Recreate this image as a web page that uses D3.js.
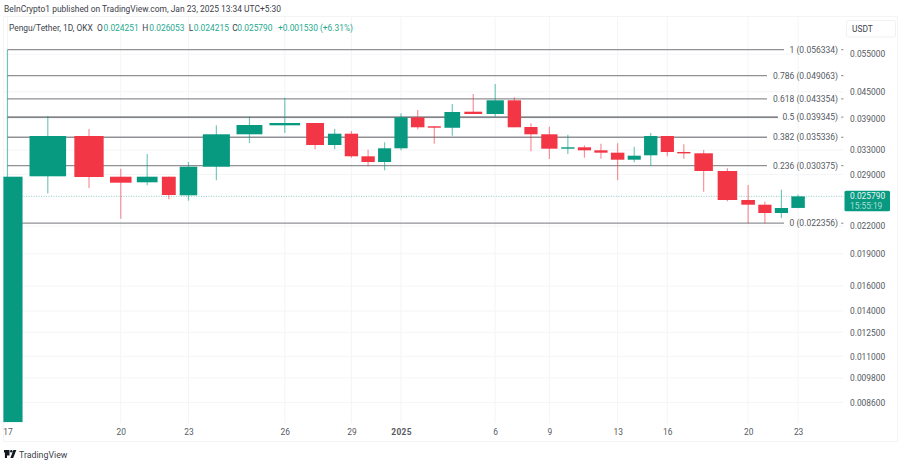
<!DOCTYPE html>
<html>
<head>
<meta charset="utf-8">
<script src="https://cdn.jsdelivr.net/npm/d3@7"></script>
<style>
  html, body { margin: 0; padding: 0; background: #fff; }
  text { font-family: Roboto, "Noto Sans", sans-serif; }
</style>
</head>
<body>
<div id="chart"></div>
<script>
// daily candles, 17 Dec 2024 to 23 Jan 2025
var opens = [0.00775, 0.02870, 0.03557, 0.02864, 0.027798, 0.02864, 0.025938, 0.030207, 0.035898, 0.037658,
  0.038124, 0.033908, 0.036013, 0.031928, 0.030972, 0.033318, 0.039301, 0.03746, 0.03717, 0.040491,
  0.039997, 0.043022, 0.037322, 0.035898, 0.033318, 0.033496, 0.032964, 0.032548, 0.031354, 0.032098,
  0.035573, 0.032669, 0.032443, 0.029523, 0.025298, 0.024672, 0.023604, 0.024251];
var closes = [0.02864, 0.03557, 0.028593, 0.02774, 0.02864, 0.02598, 0.030207, 0.035898, 0.037718, 0.038124,
  0.033908, 0.036013, 0.031928, 0.030972, 0.033318, 0.039301, 0.037263, 0.037263, 0.040426, 0.039997,
  0.043022, 0.037263, 0.035898, 0.033248, 0.033496, 0.032964, 0.032548, 0.031354, 0.03203, 0.035573,
  0.032669, 0.032443, 0.029523, 0.025298, 0.024672, 0.023604, 0.024241, 0.02579];
var highs = [0.056334, 0.039575, 0.036926, 0.029886, 0.03232, 0.02864, 0.030972, 0.037658, 0.039425, 0.043626,
  0.038124, 0.036926, 0.036534, 0.033069, 0.034401, 0.040147, 0.040857, 0.03746, 0.042186, 0.044495,
  0.046928, 0.043717, 0.038063, 0.037381, 0.035819, 0.033856, 0.034144, 0.034216, 0.033603, 0.036148,
  0.035573, 0.034035, 0.033017, 0.029952, 0.027402, 0.025068, 0.026724, 0.026053];
var lows = [0.00775, 0.026217, 0.026966, 0.022898, 0.027357, 0.025392, 0.025202, 0.028095, 0.034272, 0.036148,
  0.03314, 0.03314, 0.03169, 0.030271, 0.029633, 0.032964, 0.036868, 0.034144, 0.035631, 0.039997,
  0.039425, 0.037263, 0.03279, 0.031471, 0.03232, 0.03169, 0.031522, 0.028095, 0.030923, 0.030319,
  0.031928, 0.031522, 0.02644, 0.025123, 0.022356, 0.022356, 0.022984, 0.024215];

// the time axis of the source is stretched unevenly, this is the relative width of each day
var dayWidths = [1.45, 2.77, 2.22, 1.63, 1.57, 1.05, 1.33, 2.05, 1.96, 2.32,
  1.35, 1.02, 1.01, 1.01, 0.99, 1, 1.02, 0.99, 1.19, 1.35,
  1.31, 1.01, 1, 1.23, 1.01, 1, 1, 1.02, 0.99, 1.01,
  1, 1, 1.4, 1.48, 1.03, 1, 1, 1.02];

var fibRatios = ["1", "0.786", "0.618", "0.5", "0.382", "0.236", "0"];
var fibPrices = [0.056334, 0.049063, 0.043354, 0.039345, 0.035336, 0.030375, 0.022356];

var priceTicks = [0.055, 0.045, 0.039, 0.033, 0.029, 0.022, 0.019, 0.016, 0.014, 0.0125, 0.011, 0.0098, 0.0086];
var dayTickIndex = [0, 3, 6, 9, 12, 15, 20, 23, 27, 30, 34, 37];
var dayTickLabels = ["17", "20", "23", "26", "29", "2025", "6", "9", "13", "16", "20", "23"];
var lastPrice = 0.02579;

var legendLetters = ["O", "H", "L", "C"];
var legendValues = ["0.024251", "0.026053", "0.024215", "0.025790"];

var width = 900, height = 460;
var green = "#089981", red = "#f23645", gridColor = "#f4f5f7", textColor = "#555a62";
var plotRight = 843;
var axisFont = 8.4;

var svg = d3.select("#chart").append("svg")
  .attr("width", width)
  .attr("height", height)
  .style("display", "block");

var slotEdges = d3.cumsum(dayWidths);
var x = d3.scaleLinear()
  .domain(d3.range(0, dayWidths.length + 1))
  .range([1].concat(Array.from(slotEdges, function(d) { return 1 + d * 805.5 / slotEdges[slotEdges.length - 1]; })));

var y = d3.scaleLog()
  .domain([0.056334, 0.022356])
  .range([49.7, 223.2]);

// first candle sits against the left edge, its wick and label are off centre
function centerX(i) {
  return i === 0 ? x(0.27) : x(i + 0.5);
}

// frame
svg.append("rect")
  .attr("x", 3.5).attr("y", 16.5)
  .attr("width", 894).attr("height", 425)
  .attr("fill", "none").attr("stroke", "#f3f4f6");

// grid
svg.selectAll(".hgrid").data(priceTicks).enter().append("line")
  .attr("x1", 4).attr("x2", plotRight)
  .attr("y1", function(d) { return y(d); })
  .attr("y2", function(d) { return y(d); })
  .attr("stroke", gridColor);

svg.selectAll(".vgrid").data(dayTickIndex).enter().append("line")
  .attr("x1", centerX).attr("x2", centerX)
  .attr("y1", 17).attr("y2", 423)
  .attr("stroke", gridColor);

// fib levels
var fibEnd = function(i) { return fibRatios[i].length === 1 ? 784 : (fibRatios[i] === "0.5" ? 778 : 767); };

svg.selectAll(".fib").data(fibPrices).enter().append("line")
  .attr("x1", centerX(0))
  .attr("x2", function(d, i) { return fibEnd(i); })
  .attr("y1", function(d) { return y(d); })
  .attr("y2", function(d) { return y(d); })
  .attr("stroke", function(d, i) { return fibRatios[i] === "0.5" ? "#55585e" : "#8f9194"; })
  .attr("stroke-width", 1.3);

svg.selectAll(".fibLabel").data(fibPrices).enter().append("text")
  .attr("x", 838)
  .attr("y", function(d) { return y(d); })
  .attr("dy", "0.35em")
  .attr("text-anchor", "end")
  .attr("font-size", 8.5)
  .attr("fill", textColor)
  .text(function(d, i) { return fibRatios[i] + " (" + d.toFixed(6) + ")"; });

svg.selectAll(".fibDash").data(fibPrices).enter().append("line")
  .attr("x1", 841).attr("x2", 843.5)
  .attr("y1", function(d) { return y(d); })
  .attr("y2", function(d) { return y(d); })
  .attr("stroke", "#8f9194");

// last price line
svg.append("line")
  .attr("x1", 21).attr("x2", plotRight + 1)
  .attr("y1", y(lastPrice)).attr("y2", y(lastPrice))
  .attr("stroke", green).attr("stroke-opacity", 0.45)
  .attr("stroke-dasharray", "1 1.5");

// candles
var candles = svg.selectAll(".candle").data(opens).enter().append("g");

candles.append("line")
  .attr("x1", function(d, i) { return centerX(i); })
  .attr("x2", function(d, i) { return centerX(i); })
  .attr("y1", function(d, i) { return y(highs[i]); })
  .attr("y2", function(d, i) { return y(lows[i]); })
  .attr("stroke", function(d, i) { return closes[i] >= d ? green : red; })
  .attr("stroke-opacity", 0.55)
  .attr("stroke-width", 1.2);

candles.append("rect")
  .attr("x", function(d, i) { return x(i + 0.1); })
  .attr("width", function(d, i) { return x(i + 0.9) - x(i + 0.1); })
  .attr("y", function(d, i) { return y(Math.max(d, closes[i])); })
  .attr("height", function(d, i) { return Math.max(1.4, Math.abs(y(d) - y(closes[i]))); })
  .attr("fill", function(d, i) { return closes[i] >= d ? green : red; });

// axes
var yAxis = d3.axisRight(y)
  .tickValues(priceTicks)
  .tickSize(0)
  .tickPadding(0)
  .tickFormat(d3.format(".6f"));

var yAxisG = svg.append("g")
  .attr("transform", "translate(850,0)")
  .call(yAxis);
yAxisG.select(".domain").remove();
yAxisG.selectAll("text").attr("font-size", axisFont).attr("font-family", null).attr("fill", textColor);

var xAxis = d3.axisBottom(x)
  .tickValues(dayTickIndex.map(function(d) { return d === 0 ? 0.27 : d + 0.5; }))
  .tickSize(0)
  .tickPadding(0)
  .tickFormat(function(d, i) { return dayTickLabels[i]; });

var xAxisG = svg.append("g")
  .attr("transform", "translate(0,429)")
  .call(xAxis);
xAxisG.select(".domain").remove();
xAxisG.selectAll("text")
  .attr("font-size", axisFont)
  .attr("font-family", null)
  .attr("fill", textColor)
  .attr("font-weight", function(d, i) { return dayTickLabels[i] === "2025" ? 700 : 400; })
  .attr("letter-spacing", function(d, i) { return dayTickLabels[i] === "2025" ? 0.3 : 0; });

// price box
svg.append("rect")
  .attr("x", 844.5).attr("y", 190.7)
  .attr("width", 45.5).attr("height", 20.6)
  .attr("rx", 1.5)
  .attr("fill", green);
svg.append("text")
  .attr("x", 850).attr("y", 199)
  .attr("font-size", axisFont).attr("fill", "#e8f7f3")
  .text(lastPrice.toFixed(6));
svg.append("text")
  .attr("x", 850).attr("y", 209)
  .attr("font-size", axisFont).attr("fill", "#a9dfd4")
  .text("15:55:19");

// currency button
svg.append("rect")
  .attr("x", 846.5).attr("y", 20.5)
  .attr("width", 49).attr("height", 16.5)
  .attr("rx", 2)
  .attr("fill", "#fff").attr("stroke", "#f0f1f3");
svg.append("text")
  .attr("x", 852).attr("y", 32)
  .attr("font-size", axisFont).attr("fill", "#40444c")
  .text("USDT");

// header
svg.append("text")
  .attr("x", 4).attr("y", 12)
  .attr("font-size", 8.45).attr("fill", "#3c4048")
  .text("BeInCrypto1 published on TradingView.com, Jan 23, 2025 13:34 UTC+5:30");

svg.append("text")
  .attr("x", 9).attr("y", 31)
  .attr("font-size", 8.4).attr("fill", "#40444c")
  .text("Pengu/Tether, 1D, OKX");

var legendLetterX = [97, 142.3, 188.7, 232.3];
var legendValueX = [103.5, 149.3, 193.7, 237.3];

legendLetters.forEach(function(d, i) {
  svg.append("text").attr("x", legendLetterX[i]).attr("y", 31)
    .attr("font-size", 8.4).attr("fill", "#40444c").text(d);
  svg.append("text").attr("x", legendValueX[i]).attr("y", 31)
    .attr("font-size", 8.4).attr("fill", "#1fa98f").text(legendValues[i]);
});
svg.append("text").attr("x", 278).attr("y", 31)
  .attr("font-size", 8.4).attr("fill", "#1fa98f")
  .text("+0.001530 (+6.31%)");

// footer logo and name
var logo = svg.append("g").attr("transform", "translate(4,450)").attr("fill", "#131722");
logo.append("path").attr("d", "M0 0H5.5V5.5H3V8H0.9V2.4H0Z");
logo.append("circle").attr("cx", 7.3).attr("cy", 1.2).attr("r", 1.2);
logo.append("path").attr("d", "M9.4 0H12.3L9.2 8H6.4Z");

svg.append("text")
  .attr("x", 19).attr("y", 458)
  .attr("font-size", 8.8).attr("fill", "#3c4048")
  .text("TradingView");
</script>
</body>
</html>
